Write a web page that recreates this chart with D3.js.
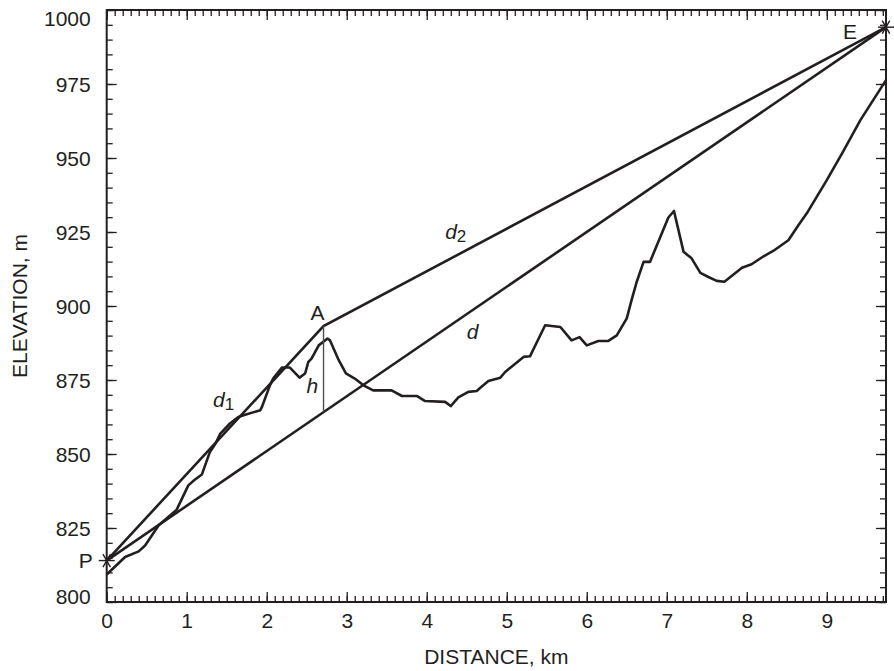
<!DOCTYPE html>
<html>
<head>
<meta charset="utf-8">
<script src="https://cdn.jsdelivr.net/npm/d3@7"></script>
<style>
  body { margin: 0; background: #fff; }
  svg text { font-family: "Liberation Sans", Arial, Helvetica, sans-serif; fill: #231f20; }
</style>
</head>
<body>
<div id="chart"></div>
<script>
// terrain profile (km, m)
const profileDist = [0, 0.23, 0.40, 0.48, 0.65, 0.875, 1.02, 1.10, 1.19, 1.29, 1.36, 1.42, 1.54, 1.645, 1.75, 1.92, 1.94,
  2.04, 2.08, 2.19, 2.29, 2.41, 2.48, 2.52, 2.56, 2.65, 2.76, 2.79, 2.90, 2.99, 3.10, 3.21, 3.33, 3.56, 3.69, 3.875,
  3.98, 4.23, 4.30, 4.395, 4.52, 4.625, 4.67, 4.77, 4.92, 4.98, 5.21, 5.29, 5.48, 5.67, 5.81, 5.91, 6.00, 6.145,
  6.27, 6.375, 6.50, 6.56, 6.625, 6.71, 6.79, 7.02, 7.09, 7.21, 7.31, 7.42, 7.52, 7.625, 7.72, 7.94, 8.06, 8.21,
  8.33, 8.52, 8.645, 8.75, 9.00, 9.20, 9.42, 9.74];
const profileElev = [809.3, 815.2, 817.1, 819.1, 825.9, 831.2, 839.4, 841.3, 843.1, 850.7, 853.5, 856.9, 860.3, 862.5, 863.4, 864.8, 865.9,
  873.2, 875.5, 879.2, 879.2, 875.8, 877.2, 881.1, 882.2, 886.7, 889.0, 888.4, 881.7, 877.2, 875.5, 873.2, 871.5, 871.5, 869.6, 869.6,
  867.9, 867.6, 866.2, 869.1, 871.0, 871.3, 872.4, 874.7, 875.8, 877.7, 882.8, 883.0, 893.5, 892.9, 888.4, 889.5, 886.7, 888.2,
  888.2, 890.1, 895.8, 902.0, 908.2, 914.9, 914.9, 929.9, 932.1, 918.3, 916.1, 911.2, 909.8, 908.5, 908.2, 912.9, 914.1, 916.8,
  918.6, 922.2, 927.3, 931.3, 942.5, 952.0, 962.8, 976.3];

// named points: P (start), A (obstacle top), E (end)
const pointP = [0, 814];
const pointA = [2.71, 893.2];
const pointE = [9.74, 994.2];

const xMajorTicks = d3.range(0, 10);
const xMinorTicks = d3.range(0, 98).map(i => i / 10);
const yMajorTicks = [800, 825, 850, 875, 900, 925, 950, 975, 1000];
const yMinorTicks = d3.range(800, 1001, 5);

const width = 894, height = 671;
const margin = { top: 10, right: 8, bottom: 69, left: 106.7 };
const innerW = width - margin.left - margin.right;
const innerH = height - margin.top - margin.bottom;
const ink = "#231f20";
const fontSize = "21px";

const svg = d3.select("#chart").append("svg")
  .attr("width", width)
  .attr("height", height);

const g = svg.append("g")
  .attr("transform", `translate(${margin.left},${margin.top})`);

const x = d3.scaleLinear().domain([0, 9.74]).range([0, innerW]);
const y = d3.scaleLinear().domain([800, 1000]).range([innerH, 0]);

// helper to style an axis group
function styleAxis(sel) {
  sel.select(".domain").remove();
  sel.selectAll(".tick line").attr("stroke", ink).attr("stroke-width", 1.3);
  sel.selectAll(".tick text").style("font-size", fontSize).attr("fill", ink);
}

// minor ticks on all four sides (pointing inward)
g.append("g").attr("transform", `translate(0,${innerH})`)
  .call(d3.axisBottom(x).tickValues(xMinorTicks).tickSize(-6).tickFormat(""))
  .call(styleAxis);
g.append("g")
  .call(d3.axisTop(x).tickValues(xMinorTicks).tickSize(-6).tickFormat(""))
  .call(styleAxis);
g.append("g")
  .call(d3.axisLeft(y).tickValues(yMinorTicks).tickSize(-6).tickFormat(""))
  .call(styleAxis);
g.append("g").attr("transform", `translate(${innerW},0)`)
  .call(d3.axisRight(y).tickValues(yMinorTicks).tickSize(-6).tickFormat(""))
  .call(styleAxis);

// major ticks + labels
g.append("g").attr("transform", `translate(0,${innerH})`)
  .call(d3.axisBottom(x).tickValues(xMajorTicks).tickSize(-10).tickPadding(11).tickFormat(d3.format("d")))
  .call(styleAxis);
g.append("g")
  .call(d3.axisTop(x).tickValues(xMajorTicks).tickSize(-10).tickFormat(""))
  .call(styleAxis);
const yAxisG = g.append("g")
  .call(d3.axisLeft(y).tickValues(yMajorTicks).tickSize(-10).tickPadding(16).tickFormat(d3.format("d")))
  .call(styleAxis);
g.append("g").attr("transform", `translate(${innerW},0)`)
  .call(d3.axisRight(y).tickValues(yMajorTicks).tickSize(-10).tickFormat(""))
  .call(styleAxis);

// end labels are nudged inside like the original
yAxisG.selectAll(".tick text")
  .attr("dy", d => d === 1000 ? "0.75em" : d === 800 ? "0.08em" : "0.34em");

// frame
g.append("rect")
  .attr("width", innerW)
  .attr("height", innerH)
  .attr("fill", "none")
  .attr("stroke", ink)
  .attr("stroke-width", 2);

// axis titles
svg.append("text")
  .attr("x", margin.left + innerW / 2)
  .attr("y", 664)
  .attr("text-anchor", "middle")
  .style("font-size", fontSize)
  .text("DISTANCE, km");

svg.append("text")
  .attr("transform", `translate(27,${margin.top + innerH / 2}) rotate(-90)`)
  .attr("text-anchor", "middle")
  .style("font-size", fontSize)
  .text("ELEVATION, m");

const line = d3.line()
  .x(d => x(d[0]))
  .y(d => y(d[1]));

// terrain profile
const profile = profileDist.map((d, i) => [d, profileElev[i]]);
g.append("path")
  .datum(profile)
  .attr("fill", "none")
  .attr("stroke", ink)
  .attr("stroke-width", 2.6)
  .attr("stroke-linejoin", "round")
  .attr("d", line);

// d1, d2 and d
g.append("path").datum([pointP, pointA, pointE])
  .attr("fill", "none").attr("stroke", ink).attr("stroke-width", 2.6)
  .attr("d", line);
g.append("path").datum([pointP, pointE])
  .attr("fill", "none").attr("stroke", ink).attr("stroke-width", 2.6)
  .attr("d", line);

// h: from A straight down to line d
const dAtA = pointP[1] + (pointE[1] - pointP[1]) * (pointA[0] - pointP[0]) / (pointE[0] - pointP[0]);
g.append("path").datum([pointA, [pointA[0], dAtA]])
  .attr("fill", "none").attr("stroke", "#4d4d4f").attr("stroke-width", 1.4)
  .attr("d", line);

// asterisk markers at P and E
function star(p) {
  const s = g.append("g").attr("transform", `translate(${x(p[0])},${y(p[1])})`);
  [0, 60, 120].forEach(a => {
    const r = a === 0 ? 8 : 7.5;
    const rad = a * Math.PI / 180;
    s.append("line")
      .attr("x1", -r * Math.cos(rad)).attr("y1", -r * Math.sin(rad))
      .attr("x2", r * Math.cos(rad)).attr("y2", r * Math.sin(rad))
      .attr("stroke", ink).attr("stroke-width", 1.4);
  });
}
star(pointP);
star(pointE);

// point and segment labels
g.append("text").attr("x", x(pointP[0]) - 14).attr("y", y(pointP[1])).attr("dy", "0.35em")
  .attr("text-anchor", "end").style("font-size", fontSize).text("P");
g.append("text").attr("x", x(pointE[0]) - 43).attr("y", y(pointE[1])).attr("dy", "0.58em")
  .attr("text-anchor", "start").style("font-size", fontSize).text("E");
g.append("text").attr("x", x(pointA[0]) - 6).attr("y", y(pointA[1]) - 6)
  .attr("text-anchor", "middle").style("font-size", fontSize).text("A");

g.append("text").attr("x", x(pointA[0]) - 17).attr("y", y(pointA[1]) + 67)
  .style("font-size", fontSize).style("font-style", "italic").text("h");

function subLabel(px, py, main, sub) {
  const t = g.append("text").attr("x", px).attr("y", py)
    .style("font-size", fontSize).style("font-style", "italic");
  t.append("tspan").text(main);
  t.append("tspan").attr("dy", 3).style("font-size", "17px").style("font-style", "normal").text(sub);
}
subLabel(x(1.33), y(866), "d", "1");
subLabel(x(4.23), y(922.8), "d", "2");
g.append("text").attr("x", x(4.5)).attr("y", y(889))
  .style("font-size", fontSize).style("font-style", "italic").text("d");
</script>
</body>
</html>
